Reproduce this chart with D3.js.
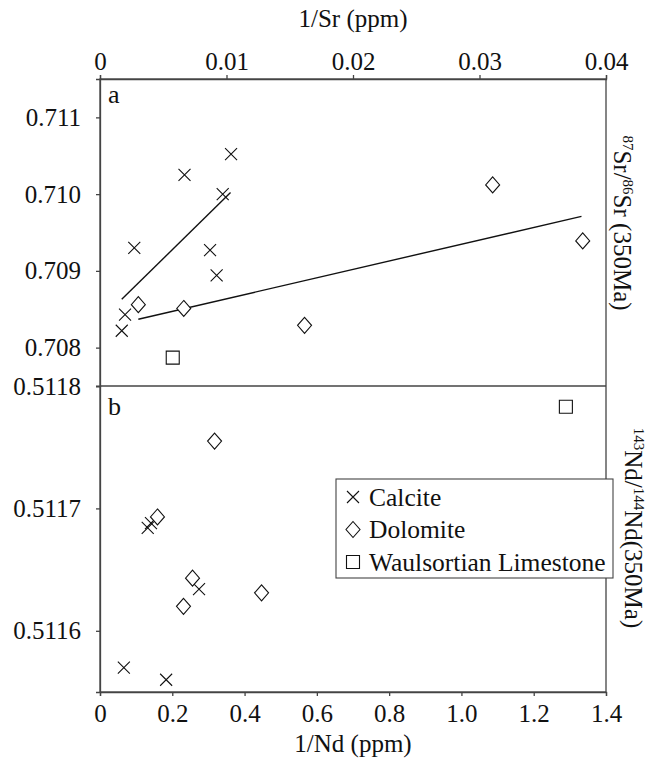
<!DOCTYPE html>
<html>
<head>
<meta charset="utf-8">
<script src="https://cdn.jsdelivr.net/npm/d3@7"></script>
<style>
  body { margin: 0; background: #fff; }
  svg text { font-family: "Liberation Serif", "Times New Roman", serif; fill: #111; }
</style>
</head>
<body>
<svg id="svg" width="650" height="760"></svg>
<script>
// ---- data ----
var srTicks = [0, 0.01, 0.02, 0.03, 0.04];
var srTickLabels = ['0', '0.01', '0.02', '0.03', '0.04'];
var ndTicks = [0, 0.2, 0.4, 0.6, 0.8, 1.0, 1.2, 1.4];
var ndTickLabels = ['0', '0.2', '0.4', '0.6', '0.8', '1.0', '1.2', '1.4'];
var srRatioTicks = [0.708, 0.709, 0.710, 0.711];
var srRatioLabels = ['0.708', '0.709', '0.710', '0.711'];
var ndRatioTicks = [0.5116, 0.5117, 0.5118];
var ndRatioLabels = ['0.5116', '0.5117', '0.5118'];

// panel a: [1/Sr, 87Sr/86Sr]
var srCalcite = [[0.01036, 0.71052], [0.00668, 0.71025], [0.00970, 0.71000], [0.00271, 0.70930],
                 [0.00870, 0.70927], [0.00922, 0.70894], [0.00198, 0.70843], [0.00172, 0.70822]];
var srDolomite = [[0.00303, 0.70856], [0.00662, 0.70851], [0.01617, 0.70829], [0.03104, 0.71012], [0.03816, 0.70939]];
var srLimestone = [[0.00575, 0.70787]];
var srCalciteTrend = [[0.00172, 0.70863], [0.01032, 0.71002]];
var srDolomiteTrend = [[0.00303, 0.70837], [0.03806, 0.70971]];

// panel b: [1/Nd, 143Nd/144Nd]
var ndCalcite = [[0.066, 0.511570], [0.183, 0.511560], [0.132, 0.511684], [0.141, 0.511688], [0.274, 0.511634]];
var ndDolomite = [[0.159, 0.511693], [0.317, 0.511755], [0.256, 0.511643], [0.231, 0.511620], [0.447, 0.511631]];
var ndLimestone = [[1.289, 0.511783]];

var legendItems = [['cross', 'Calcite'], ['diamond', 'Dolomite'], ['square', 'Waulsortian Limestone']];

// ---- layout ----
var plotL = 100, plotR = 606, plotT = 79, plotM = 386, plotB = 692;
var axisColor = '#444';
var serif = '"Liberation Serif", "Times New Roman", serif';

var svg = d3.select('#svg');

var xSr = d3.scaleLinear().domain([0, 0.04]).range([plotL, plotR]);
var xNd = d3.scaleLinear().domain([0, 1.4]).range([plotL, plotR]);
var ySr = d3.scaleLinear().domain([0.7075, 0.7115]).range([plotM, plotT]);
var yNd = d3.scaleLinear().domain([0.51155, 0.5118]).range([plotB, plotM]);

// marker shapes
function shapePath(type) {
  if (type == 'cross') return 'M-6,-6L6,6M-6,6L6,-6';
  if (type == 'diamond') return 'M0,-8L7,0L0,8L-7,0Z';
  return 'M-6.5,-6.5H6.5V6.5H-6.5Z';
}

function styleAxis(g) {
  g.attr('font-family', serif).attr('font-size', 25);
  g.selectAll('path, line').attr('stroke', axisColor).attr('stroke-width', 1.3);
  g.selectAll('text').attr('fill', '#111');
}

// frame
svg.append('rect')
  .attr('x', plotL).attr('y', plotT)
  .attr('width', plotR - plotL).attr('height', plotB - plotT)
  .attr('fill', 'none').attr('stroke', axisColor).attr('stroke-width', 1.3);
svg.append('line')
  .attr('x1', plotL).attr('x2', plotR).attr('y1', plotM).attr('y2', plotM)
  .attr('stroke', axisColor).attr('stroke-width', 1.3);

// axes
var gTop = svg.append('g').attr('transform', 'translate(0,' + plotT + ')')
  .call(d3.axisTop(xSr).tickValues(srTicks).tickSize(4).tickPadding(5)
    .tickFormat(function(d, i) { return srTickLabels[i]; }));
styleAxis(gTop);

var gBottom = svg.append('g').attr('transform', 'translate(0,' + plotB + ')')
  .call(d3.axisBottom(xNd).tickValues(ndTicks).tickSize(4).tickPadding(8)
    .tickFormat(function(d, i) { return ndTickLabels[i]; }));
styleAxis(gBottom);

var gLeftA = svg.append('g').attr('transform', 'translate(' + plotL + ',0)')
  .call(d3.axisLeft(ySr).tickValues(srRatioTicks).tickSize(4).tickPadding(15)
    .tickFormat(function(d, i) { return srRatioLabels[i]; }));
styleAxis(gLeftA);

var gLeftB = svg.append('g').attr('transform', 'translate(' + plotL + ',0)')
  .call(d3.axisLeft(yNd).tickValues(ndRatioTicks).tickSize(4).tickPadding(15)
    .tickFormat(function(d, i) { return ndRatioLabels[i]; }));
styleAxis(gLeftB);

// axis titles
svg.append('text').attr('x', (plotL + plotR) / 2).attr('y', 27)
  .attr('text-anchor', 'middle').attr('font-size', 25).text('1/Sr (ppm)');
svg.append('text').attr('x', (plotL + plotR) / 2).attr('y', 752)
  .attr('text-anchor', 'middle').attr('font-size', 25).text('1/Nd (ppm)');

function rotatedLabel(x, y, parts) {
  var t = svg.append('text')
    .attr('transform', 'translate(' + x + ',' + y + ') rotate(90)')
    .attr('text-anchor', 'middle').attr('font-size', 25);
  parts.forEach(function(p) {
    var s = t.append('tspan').text(p[0]);
    if (p[1]) s.attr('font-size', 15).attr('dy', -9);
    else s.attr('dy', 9);
  });
}
rotatedLabel(614, 223, [['87', true], ['Sr/', false], ['86', true], ['Sr (350Ma)', false]]);
rotatedLabel(625, 528, [['143', true], ['Nd/', false], ['144', true], ['Nd(350Ma)', false]]);

// panel letters
svg.append('text').attr('x', 108).attr('y', 103).attr('font-size', 26).text('a');
svg.append('text').attr('x', 108).attr('y', 415).attr('font-size', 26).text('b');

// trend lines in panel a
var line = d3.line().x(function(d) { return xSr(d[0]); }).y(function(d) { return ySr(d[1]); });
[srCalciteTrend, srDolomiteTrend].forEach(function(tr) {
  svg.append('path').attr('d', line(tr))
    .attr('fill', 'none').attr('stroke', '#111').attr('stroke-width', 1.4);
});

function drawPoints(data, type, xs, ys) {
  svg.append('g').selectAll('path')
    .data(data)
    .enter()
    .append('path')
    .attr('transform', function(d) { return 'translate(' + xs(d[0]) + ',' + ys(d[1]) + ')'; })
    .attr('d', shapePath(type))
    .attr('fill', type == 'cross' ? 'none' : '#fff')
    .attr('stroke', '#111')
    .attr('stroke-width', 1.1);
}

drawPoints(srCalcite, 'cross', xSr, ySr);
drawPoints(srDolomite, 'diamond', xSr, ySr);
drawPoints(srLimestone, 'square', xSr, ySr);
drawPoints(ndCalcite, 'cross', xNd, yNd);
drawPoints(ndDolomite, 'diamond', xNd, yNd);
drawPoints(ndLimestone, 'square', xNd, yNd);

// legend
var legend = svg.append('g').attr('transform', 'translate(336,479)');
legend.append('rect').attr('width', 277).attr('height', 99)
  .attr('fill', '#fff').attr('stroke', axisColor).attr('stroke-width', 1.1);
legendItems.forEach(function(item, i) {
  var cy = 18 + i * 32.5;
  legend.append('path')
    .attr('transform', 'translate(17,' + cy + ')')
    .attr('d', shapePath(item[0]))
    .attr('fill', 'none').attr('stroke', '#111').attr('stroke-width', 1.1);
  legend.append('text').attr('x', 33).attr('y', cy + 8.5)
    .attr('font-size', 25.5).text(item[1]);
});
</script>
</body>
</html>
